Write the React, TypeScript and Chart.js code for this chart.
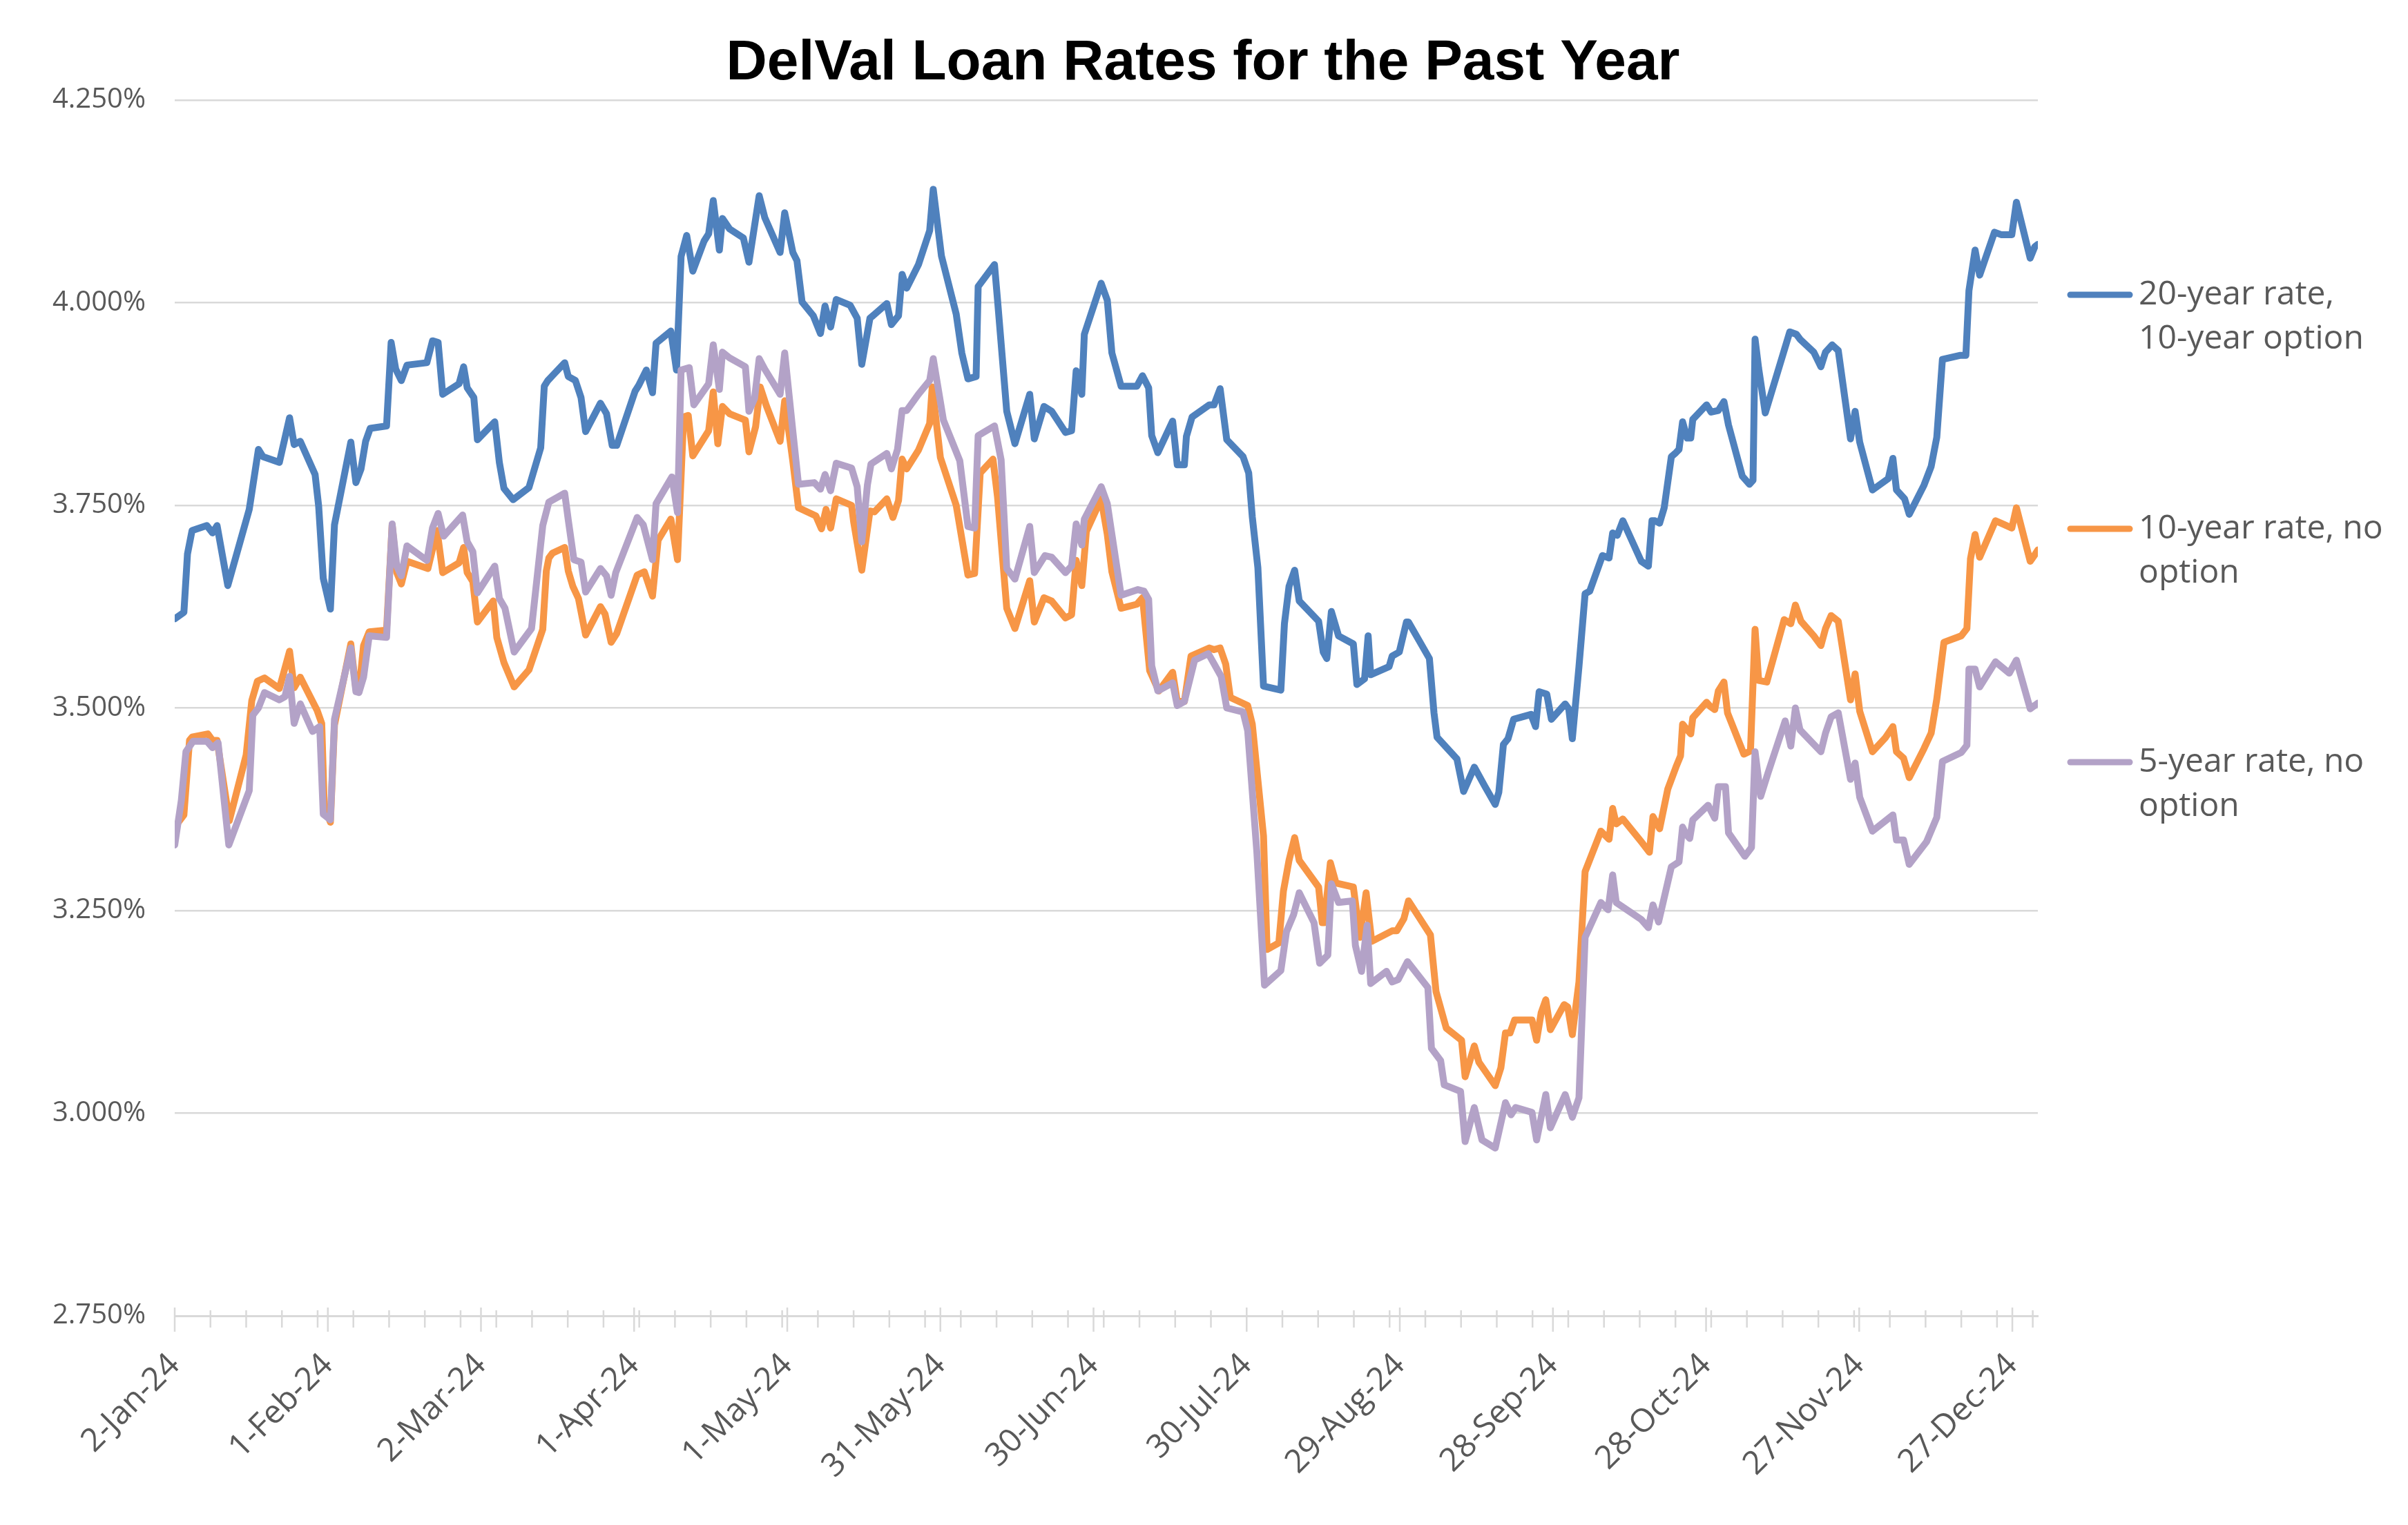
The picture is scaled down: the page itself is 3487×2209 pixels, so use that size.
import React, { useEffect, useRef } from 'react';
import { Chart, registerables } from 'chart.js';

Chart.register(...registerables);

const W = 3487;
const H = 2209;

const chartTitle = 'DelVal Loan Rates for the Past Year';

// x values: days after 2-Jan-24
const xTickDays = [0, 30, 60, 90, 120, 150, 180, 210, 240, 270, 300, 330, 360];
const xTickLabels = ['2-Jan-24', '1-Feb-24', '2-Mar-24', '1-Apr-24', '1-May-24', '31-May-24', '30-Jun-24', '30-Jul-24', '29-Aug-24', '28-Sep-24', '28-Oct-24', '27-Nov-24', '27-Dec-24'];
const xMinDay = 0;
const xMaxDay = 365;
const yMin = 2.75;
const yMax = 4.25;
const yStep = 0.25;

const seriesLabels = [
  ['20-year rate,', '10-year option'],
  ['10-year rate, no', 'option'],
  ['5-year rate, no', 'option'],
];
const seriesColors = ['#4F81BD', '#F79646', '#B3A2C7'];

// [day after 2-Jan-24, rate %]
const rate20yOpt10y: number[][] = [[0,3.610],[1.8,3.618],[2.5,3.690],[3.4,3.719],[6.3,3.725],[7.4,3.716],[8.3,3.725],[10.4,3.651],[14.6,3.745],[16.4,3.819],[17.3,3.810],[20.5,3.803],[22.5,3.858],[23.4,3.825],[24.6,3.829],[27.5,3.788],[28.2,3.749],[29.1,3.660],[30.5,3.622],[31.3,3.726],[34.5,3.828],[35.5,3.778],[36.5,3.795],[37.4,3.829],[38.3,3.845],[41.5,3.848],[42.4,3.951],[43.3,3.918],[44.4,3.904],[45.5,3.923],[49.4,3.926],[50.5,3.953],[51.6,3.951],[52.5,3.887],[55.7,3.900],[56.6,3.921],[57.3,3.895],[58.6,3.883],[59.3,3.831],[62.7,3.853],[63.6,3.803],[64.5,3.771],[66.3,3.757],[69.4,3.772],[71.7,3.821],[72.4,3.897],[73.1,3.904],[74,3.910],[76.4,3.926],[77.1,3.909],[78.5,3.904],[79.6,3.883],[80.5,3.841],[83.4,3.876],[84.6,3.863],[85.7,3.824],[86.6,3.824],[90.2,3.891],[90.9,3.898],[92.4,3.917],[93.6,3.889],[94.3,3.950],[97.2,3.965],[98.3,3.917],[99.2,4.057],[100.3,4.083],[101.5,4.039],[103.7,4.076],[104.6,4.085],[105.5,4.126],[106.7,4.065],[107.3,4.104],[108.7,4.091],[111.4,4.080],[112.5,4.050],[114.5,4.132],[115.6,4.105],[118.6,4.062],[119.5,4.111],[121.1,4.062],[121.9,4.052],[122.9,4.001],[125.1,3.984],[126.5,3.962],[127.4,3.996],[128.5,3.970],[129.6,4.004],[132.3,3.997],[133.7,3.981],[134.6,3.924],[136.2,3.981],[136.8,3.984],[139.5,3.999],[140.4,3.973],[141.8,3.984],[142.5,4.035],[143.4,4.018],[145.7,4.047],[147.9,4.089],[148.6,4.140],[150.2,4.058],[153.1,3.986],[154.2,3.938],[155.4,3.906],[157,3.909],[157.4,4.020],[160.6,4.047],[161.2,4.003],[163,3.866],[164.6,3.826],[167.5,3.887],[168.4,3.832],[170.3,3.872],[171.8,3.866],[174.5,3.840],[175.7,3.842],[176.6,3.916],[177.7,3.887],[178.2,3.961],[181.5,4.024],[182.7,4.003],[183.6,3.938],[185.4,3.897],[188.5,3.897],[189.6,3.910],[190.8,3.895],[191.4,3.836],[192.6,3.815],[195.5,3.854],[196.4,3.800],[197.8,3.800],[198.2,3.835],[199.3,3.859],[202.7,3.874],[203.6,3.874],[204.8,3.894],[206.1,3.831],[209.3,3.810],[210.4,3.790],[211.1,3.736],[212.2,3.673],[213.3,3.527],[216.7,3.522],[217.4,3.604],[218.3,3.650],[219.4,3.670],[220.3,3.632],[224.1,3.607],[225,3.569],[225.7,3.561],[226.6,3.619],[228,3.589],[230.9,3.579],[231.6,3.529],[233.1,3.536],[233.8,3.589],[234.3,3.541],[237.9,3.551],[238.5,3.564],[239.9,3.569],[241.3,3.606],[241.7,3.606],[245.8,3.561],[246.7,3.494],[247.3,3.464],[251.2,3.437],[252.5,3.397],[254.6,3.427],[256.6,3.404],[258.7,3.381],[259.4,3.396],[260.3,3.455],[261.2,3.462],[262.3,3.486],[265.7,3.492],[266.6,3.477],[267.3,3.520],[268.8,3.517],[269.7,3.486],[272.4,3.505],[273.1,3.499],[273.8,3.462],[275.1,3.551],[276.3,3.641],[277.2,3.644],[279.7,3.688],[281,3.685],[281.7,3.716],[282.6,3.713],[283.7,3.731],[287.3,3.681],[288.7,3.675],[289.4,3.731],[290,3.731],[290.9,3.728],[291.8,3.747],[293.2,3.810],[294.1,3.815],[294.7,3.819],[295.4,3.853],[296.3,3.833],[297,3.833],[297.4,3.856],[300.1,3.874],[301,3.865],[302.4,3.867],[303.5,3.878],[304.4,3.849],[307.1,3.786],[308.5,3.776],[309.2,3.781],[309.6,3.955],[310.3,3.919],[311.6,3.864],[316.4,3.964],[317.7,3.961],[318.4,3.955],[321.1,3.939],[322.5,3.921],[323.4,3.939],[324.7,3.948],[325.9,3.941],[328.3,3.832],[329.2,3.866],[330.1,3.828],[332.6,3.769],[335.7,3.783],[336.6,3.808],[337.3,3.769],[338.9,3.758],[339.8,3.739],[342.7,3.775],[344.1,3.798],[345.2,3.834],[346.3,3.930],[349.7,3.935],[350.9,3.935],[351.5,4.015],[352.7,4.065],[353.6,4.034],[356.5,4.087],[357.8,4.084],[359.9,4.084],[360.8,4.124],[363.5,4.055],[364.4,4.069],[365,4.072]];

const rate10yNoOpt: number[][] = [[0,3.353],[1.8,3.368],[2.9,3.460],[3.4,3.464],[6.5,3.468],[7.4,3.460],[8.3,3.460],[10.7,3.361],[14,3.442],[15.1,3.509],[16.2,3.533],[17.6,3.537],[20.5,3.524],[22.5,3.570],[23.4,3.525],[24.6,3.538],[27.9,3.497],[28.8,3.481],[29.3,3.379],[30.5,3.359],[31.3,3.479],[34.5,3.579],[35.5,3.523],[36.1,3.521],[37,3.577],[38.1,3.594],[41.5,3.596],[42.6,3.726],[43.5,3.667],[44.4,3.653],[45.5,3.681],[49.6,3.672],[51.4,3.719],[52.5,3.667],[55.7,3.679],[56.6,3.698],[57.3,3.667],[58.4,3.656],[59.3,3.606],[62.4,3.632],[63.1,3.587],[64.5,3.556],[66.5,3.526],[69.4,3.547],[72.1,3.597],[72.8,3.669],[73.3,3.685],[74,3.691],[76.4,3.698],[77.1,3.669],[78,3.650],[79.1,3.635],[80.5,3.590],[83.4,3.625],[84.3,3.616],[85.5,3.581],[86.6,3.592],[90.6,3.664],[92,3.668],[93.6,3.638],[94.7,3.707],[97.2,3.733],[98.5,3.683],[99.7,3.859],[100.6,3.861],[101.5,3.811],[104.6,3.842],[105.5,3.890],[106.4,3.826],[107.3,3.872],[108.7,3.863],[111.8,3.855],[112.5,3.816],[113.8,3.847],[114.7,3.896],[115.9,3.873],[118.6,3.829],[119.5,3.879],[121.1,3.804],[122.2,3.747],[125.6,3.737],[126.7,3.721],[127.6,3.745],[128.5,3.722],[129.6,3.758],[132.6,3.750],[133,3.730],[134.6,3.670],[136.2,3.743],[137.1,3.742],[139.5,3.758],[140.7,3.735],[141.8,3.756],[142.5,3.807],[143.4,3.795],[145.7,3.818],[147.9,3.851],[148.4,3.896],[150,3.809],[153.1,3.750],[155.4,3.664],[156.7,3.666],[157.8,3.790],[160.3,3.807],[161.2,3.760],[163,3.623],[164.6,3.598],[167.5,3.657],[168.4,3.606],[170.3,3.636],[171.8,3.632],[174.5,3.611],[175.7,3.615],[176.6,3.682],[177.7,3.651],[178.6,3.718],[181.5,3.758],[182.7,3.714],[183.6,3.668],[185.4,3.623],[188.5,3.628],[189.6,3.636],[191,3.546],[192.8,3.521],[195.5,3.544],[196.4,3.508],[197.8,3.508],[199.1,3.564],[202.7,3.574],[203.6,3.572],[204.8,3.574],[205.9,3.554],[206.8,3.513],[210.2,3.503],[211.1,3.480],[213.3,3.342],[214,3.202],[216.3,3.210],[217.2,3.274],[218.3,3.312],[219.4,3.340],[220.3,3.312],[224.1,3.279],[224.8,3.235],[225.2,3.235],[226.4,3.309],[227.5,3.284],[230.9,3.279],[232.2,3.217],[233.4,3.272],[234.5,3.212],[238.5,3.225],[239.4,3.225],[240.8,3.240],[241.7,3.262],[246,3.220],[247.1,3.150],[249.1,3.105],[252.1,3.090],[252.8,3.045],[254.6,3.083],[255.5,3.063],[256.6,3.053],[258.7,3.034],[259.8,3.056],[260.7,3.099],[261.6,3.099],[262.5,3.115],[265.9,3.115],[266.8,3.090],[267.7,3.124],[268.6,3.140],[269.5,3.103],[272.2,3.134],[272.9,3.131],[273.8,3.097],[275.1,3.162],[276.3,3.298],[279.4,3.348],[281,3.338],[281.7,3.376],[282.4,3.357],[283.7,3.363],[287.3,3.335],[288.9,3.322],[289.6,3.366],[290.9,3.351],[292.5,3.400],[294.1,3.427],[295,3.441],[295.4,3.480],[296.3,3.473],[297,3.468],[297.4,3.488],[300.1,3.507],[300.8,3.502],[301.7,3.498],[302.4,3.521],[303.5,3.532],[304.2,3.494],[307.4,3.443],[308.7,3.447],[309.6,3.597],[310.3,3.534],[311.9,3.532],[315.3,3.609],[316.6,3.604],[317.5,3.627],[318.6,3.607],[321.1,3.589],[322.5,3.577],[323.4,3.598],[324.5,3.614],[325.9,3.607],[328.3,3.510],[329.2,3.542],[330.1,3.496],[332.6,3.446],[335.1,3.463],[336.6,3.477],[337.3,3.446],[338.7,3.438],[339.8,3.414],[342.7,3.450],[344.1,3.469],[345.2,3.511],[346.6,3.581],[350,3.589],[351.1,3.598],[351.8,3.684],[352.7,3.714],[353.6,3.686],[356.7,3.731],[357.8,3.728],[359.9,3.722],[360.8,3.747],[363.5,3.681],[364.4,3.689],[365,3.695]];

const rate5yNoOpt: number[][] = [[0,3.331],[1.3,3.386],[2.2,3.446],[3.6,3.459],[6.3,3.459],[7.4,3.451],[8.5,3.457],[10.6,3.331],[14.6,3.398],[15.3,3.491],[16.4,3.500],[17.6,3.519],[20.5,3.510],[21.6,3.514],[22.5,3.539],[23.4,3.481],[24.6,3.505],[27,3.471],[28.4,3.477],[29.1,3.369],[30.5,3.362],[31.3,3.486],[34.5,3.574],[35.5,3.520],[36.1,3.519],[37,3.538],[38.1,3.589],[41.5,3.587],[42.6,3.727],[43.5,3.675],[44.4,3.663],[45.5,3.700],[49.4,3.682],[50.5,3.722],[51.6,3.740],[52.7,3.712],[56.4,3.738],[57.3,3.705],[58.4,3.693],[59.3,3.642],[62.7,3.675],[63.6,3.635],[64.7,3.623],[66.5,3.569],[69.9,3.598],[72.1,3.725],[73.3,3.754],[76.4,3.765],[77.1,3.732],[78.2,3.683],[79.6,3.680],[80.5,3.643],[83.4,3.672],[84.6,3.663],[85.5,3.639],[86.4,3.667],[90.6,3.735],[91.8,3.726],[93.6,3.683],[94.3,3.752],[97.4,3.785],[98.5,3.741],[99.2,3.917],[100.8,3.920],[101.7,3.874],[104.6,3.900],[105.5,3.948],[106.7,3.893],[107.3,3.939],[108.7,3.932],[111.8,3.921],[112.5,3.866],[113.6,3.882],[114.5,3.931],[115.6,3.918],[118.6,3.887],[119.5,3.938],[121.1,3.841],[122.2,3.776],[125.3,3.778],[126.5,3.770],[127.4,3.788],[128.5,3.768],[129.6,3.802],[132.6,3.796],[133.7,3.773],[134.6,3.705],[135.7,3.775],[136.4,3.801],[139.5,3.814],[140.4,3.795],[141.6,3.819],[142.5,3.867],[143.4,3.867],[145.7,3.887],[147.9,3.904],[148.6,3.931],[150.6,3.855],[153.8,3.805],[155.4,3.724],[156.7,3.722],[157.4,3.836],[160.6,3.848],[161.9,3.806],[163,3.672],[164.6,3.659],[167.5,3.724],[168.4,3.667],[170.5,3.688],[171.8,3.686],[174.5,3.667],[175.7,3.675],[176.6,3.727],[177.7,3.701],[178.2,3.733],[181.5,3.773],[182.7,3.752],[183.6,3.714],[185.4,3.639],[188.7,3.646],[189.9,3.644],[190.8,3.634],[191.4,3.552],[192.6,3.521],[195.5,3.531],[196.4,3.503],[197.8,3.508],[199.8,3.559],[202.5,3.567],[205,3.539],[206.1,3.500],[209.3,3.495],[210.2,3.472],[212,3.322],[213.5,3.158],[216.7,3.176],[217.8,3.224],[219.2,3.245],[220.3,3.272],[223.2,3.235],[224.3,3.185],[225.9,3.195],[226.6,3.283],[228,3.260],[230.7,3.262],[231.3,3.207],[232.5,3.175],[233.6,3.232],[234.3,3.160],[237.4,3.175],[238.5,3.162],[239.7,3.165],[241.5,3.187],[245.5,3.155],[246.2,3.080],[248,3.065],[248.7,3.035],[251.9,3.027],[252.8,2.965],[254.6,3.007],[256.1,2.967],[258.7,2.957],[260.7,3.013],[261.8,2.998],[262.7,3.007],[265.9,3.001],[266.8,2.967],[268.6,3.023],[269.5,2.982],[272.4,3.023],[273.8,2.995],[275.1,3.019],[276.3,3.217],[279.4,3.260],[280.8,3.251],[281.7,3.294],[282.4,3.260],[287.3,3.239],[288.7,3.229],[289.6,3.257],[290.7,3.236],[293.2,3.304],[294.7,3.310],[295.4,3.353],[296.1,3.344],[296.8,3.339],[297.4,3.362],[300.4,3.380],[301.7,3.364],[302.4,3.403],[303.8,3.403],[304.4,3.346],[307.6,3.317],[308.9,3.328],[309.6,3.446],[310.7,3.391],[312.1,3.419],[315.5,3.484],[316.6,3.453],[317.5,3.500],[318.4,3.473],[322.5,3.446],[323.4,3.469],[324.5,3.489],[325.9,3.494],[328.3,3.412],[329.2,3.432],[330.1,3.390],[332.6,3.348],[336.6,3.368],[337.3,3.337],[338.7,3.337],[339.8,3.307],[343.2,3.335],[345.2,3.365],[346.3,3.434],[350,3.445],[351.1,3.454],[351.5,3.548],[352.7,3.548],[353.6,3.526],[356.7,3.557],[359.4,3.543],[360.8,3.559],[363.5,3.499],[365,3.506]];

const seriesData = [rate20yOpt10y, rate10yNoOpt, rate5yNoOpt];

const titlePlugin = {
  id: 'customTitle',
  afterDraw(chart: any) {
    const ctx = chart.ctx;
    ctx.save();
    ctx.font = 'bold 82px "Liberation Sans", Arial, sans-serif';
    ctx.fillStyle = '#000000';
    ctx.textAlign = 'center';
    ctx.textBaseline = 'alphabetic';
    ctx.fillText(chartTitle, 1742, 115);
    ctx.restore();
  },
};

const axisTicksPlugin = {
  id: 'crossTicks',
  afterDraw(chart: any) {
    const ctx = chart.ctx;
    const xs = chart.scales.x;
    const y0 = chart.chartArea.bottom;
    ctx.save();
    ctx.strokeStyle = '#D9D9D9';
    ctx.lineWidth = 2.5;
    ctx.beginPath();
    for (let d = xMinDay; d <= xMaxDay; d += 7) {
      const px = xs.getPixelForValue(d);
      ctx.moveTo(px, y0 - 8);
      ctx.lineTo(px, y0 + 17);
    }
    for (const d of xTickDays) {
      const px = xs.getPixelForValue(d);
      ctx.moveTo(px, y0 - 12);
      ctx.lineTo(px, y0 + 23);
    }
    ctx.stroke();
    ctx.restore();
  },
};

const legendPlugin = {
  id: 'sideLegend',
  afterDraw(chart: any) {
    const ctx = chart.ctx;
    const rows = [427, 766, 1104];
    ctx.save();
    seriesLabels.forEach((lines, i) => {
      const y = rows[i];
      ctx.strokeStyle = seriesColors[i];
      ctx.lineWidth = 9;
      ctx.lineCap = 'round';
      ctx.beginPath();
      ctx.moveTo(2998, y);
      ctx.lineTo(3084, y);
      ctx.stroke();
      ctx.fillStyle = '#595959';
      ctx.font = '48px "Open Sans", sans-serif';
      ctx.textAlign = 'left';
      ctx.textBaseline = 'middle';
      lines.forEach((t, j) => ctx.fillText(t, 3097, y + j * 64));
    });
    ctx.restore();
  },
};

export default function App() {
  const canvasRef = useRef<HTMLCanvasElement>(null);

  useEffect(() => {
    const canvas = canvasRef.current;
    if (!canvas) return;
    const chart = new Chart(canvas, {
      type: 'line',
      data: {
        datasets: seriesData.map((s, i) => ({
          label: seriesLabels[i].join(' '),
          data: s.map(([x, y]) => ({ x, y })),
          borderColor: seriesColors[i],
          backgroundColor: seriesColors[i],
          borderWidth: 10,
          pointRadius: 0,
          pointHoverRadius: 0,
          tension: 0,
          borderJoinStyle: 'round',
          borderCapStyle: 'round',
          fill: false,
          order: 3 - i,
        })),
      },
      options: {
        responsive: false,
        animation: false,
        devicePixelRatio: 1,
        layout: { padding: { top: 145, right: 536, left: 0, bottom: 0 } },
        plugins: {
          legend: { display: false },
          title: { display: false },
          tooltip: { enabled: false },
        },
        scales: {
          x: {
            type: 'linear',
            min: xMinDay,
            max: xMaxDay,
            afterBuildTicks: (scale: any) => {
              scale.ticks = xTickDays.map((v) => ({ value: v }));
            },
            afterFit: (scale: any) => {
              scale.height = 303;
            },
            grid: { display: false, drawTicks: false },
            border: { display: true, color: '#D9D9D9', width: 3 },
            ticks: {
              autoSkip: false,
              maxRotation: 45,
              minRotation: 45,
              padding: 44,
              color: '#595959',
              font: { family: 'Open Sans', size: 47 },
              callback: (_v: any, i: number) => xTickLabels[i],
            },
          },
          y: {
            type: 'linear',
            min: yMin,
            max: yMax,
            afterFit: (scale: any) => {
              scale.width = 253;
            },
            grid: { color: '#D9D9D9', lineWidth: 2.5, drawTicks: false },
            border: { display: false },
            ticks: {
              stepSize: yStep,
              padding: 42,
              color: '#595959',
              font: { family: 'Open Sans', size: 40 },
              callback: (v: any) => Number(v).toFixed(3) + '%',
            },
          },
        },
      },
      plugins: [titlePlugin, axisTicksPlugin, legendPlugin],
    } as any);
    return () => chart.destroy();
  }, []);

  return (
    <div style={{ position: 'absolute', left: 0, top: 0, width: W, height: H, background: '#ffffff' }}>
      <canvas ref={canvasRef} width={W} height={H} style={{ width: W, height: H, display: 'block' }} />
    </div>
  );
}
